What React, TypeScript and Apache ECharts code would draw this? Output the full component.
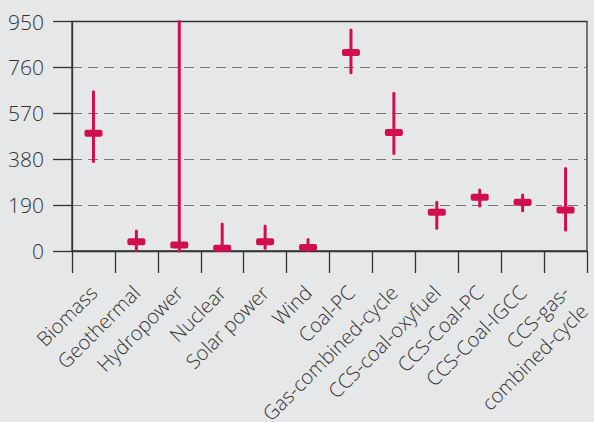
import React, { useEffect, useRef } from "react";
import * as echarts from "echarts";

const categories = [
  "Biomass",
  "Geothermal",
  "Hydropower",
  "Nuclear",
  "Solar power",
  "Wind",
  "Coal-PC",
  "Gas-combined-cycle",
  "CCS-coal-oxyfuel",
  "CCS-Coal-PC",
  "CCS-Coal-IGCC",
  "CCS-gas-\ncombined-cycle",
];
const minValues = [370, 2, 0, 1, 11, 2, 738, 404, 94, 186, 167, 87];
const medianValues = [487, 38, 25, 11, 38, 14, 822, 491, 160, 222, 202, 170];
const maxValues = [659, 83, 950, 112, 103, 48, 915, 653, 202, 252, 232, 342];
const yTicks = { min: 0, max: 950, interval: 190 };

const RED = "#d10f4e";
const INK = "#333333";
const TEXT = "#333333";
const FONT = "'Open Sans', 'Liberation Sans', Arial, sans-serif";

export default function App() {
  const ref = useRef<HTMLDivElement>(null);
  useEffect(() => {
    if (!ref.current) return;
    const chart = echarts.init(ref.current, undefined, { renderer: "svg" });
    const data = categories.map((_, i) => [i, minValues[i], medianValues[i], maxValues[i]]);
    chart.setOption({
      animation: false,
      backgroundColor: "#e6e7e9",
      grid: {
        left: 72,
        right: 7,
        top: 21.5,
        bottom: 171,
        containLabel: false,
        outerBoundsMode: "none",
        show: true,
        backgroundColor: "transparent",
        borderColor: INK,
        borderWidth: 1.3,
      },
      xAxis: {
        type: "category",
        data: categories,
        boundaryGap: true,
        axisLine: { show: true, lineStyle: { color: INK, width: 1.3 } },
        axisTick: { show: true, length: 22, alignWithLabel: false, lineStyle: { color: INK, width: 1.3 } },
        axisLabel: {
          rotate: 45,
          interval: 0,
          margin: 38,
          fontSize: 20,
          fontWeight: 300,
          lineHeight: 26,
          color: TEXT,
          fontFamily: FONT,
          align: "right",
          hideOverlap: false,
          formatter: (v: string) => (v.indexOf("\n") >= 0 ? " \n" + v : v),
        },
        splitLine: { show: false },
      },
      yAxis: {
        type: "value",
        min: yTicks.min,
        max: yTicks.max,
        interval: yTicks.interval,
        axisLine: { show: true, lineStyle: { color: INK, width: 1.3 } },
        axisTick: { show: true, length: 19, lineStyle: { color: INK, width: 1.3 } },
        axisLabel: {
          margin: 28,
          fontSize: 21,
          fontWeight: 300,
          color: TEXT,
          fontFamily: FONT,
        },
        splitLine: {
          show: true,
          showMinLine: false,
          showMaxLine: false,
          lineStyle: { color: "#777777", type: [10, 6], width: 1.2 },
        },
      },
      series: [
        {
          type: "custom",
          data,
          encode: { x: 0, y: [1, 2, 3] },
          clip: false,
          renderItem: (params: any, api: any) => {
            const idx = api.value(0);
            const lo = api.coord([idx, api.value(1)]);
            const mid = api.coord([idx, api.value(2)]);
            const hi = api.coord([idx, api.value(3)]);
            return {
              type: "group",
              children: [
                {
                  type: "line",
                  shape: { x1: lo[0], y1: lo[1], x2: hi[0], y2: hi[1] },
                  style: { stroke: RED, lineWidth: 3, lineCap: "round" },
                },
                {
                  type: "rect",
                  shape: { x: mid[0] - 9, y: mid[1] - 3.5, width: 18, height: 7, r: 2 },
                  style: { fill: RED },
                },
              ],
            };
          },
        },
      ],
    });
    return () => chart.dispose();
  }, []);
  return (
    <div
      ref={ref}
      style={{ position: "fixed", left: 0, top: 0, width: 594, height: 422, background: "#e6e7e9" }}
    />
  );
}
